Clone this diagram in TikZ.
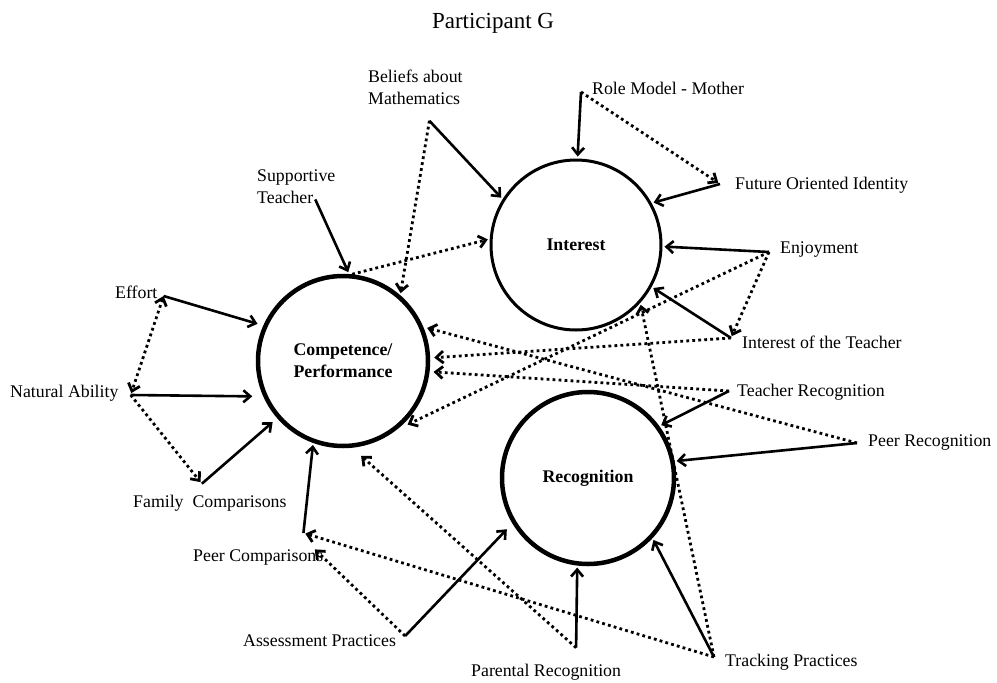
\documentclass[tikz,border=0pt]{standalone}
\usepackage{fontspec}
\setmainfont{Liberation Serif}
\usetikzlibrary{arrows.meta}

\begin{document}
\begin{tikzpicture}[x=1pt, y=-1pt,
		>={Straight Barb[length=7pt,width=12pt]},
		lbl/.style={font=\fontsize{17.8}{21.5}\selectfont, inner sep=3pt, anchor=west, align=left},
		construct/.style={circle, draw, minimum size=170pt, inner sep=0pt, align=center,
			font=\fontsize{17.8}{22}\selectfont\bfseries},
		link/.style={->, line width=2.6pt, shorten >=2pt},
		hint/.style={->, line width=2.8pt, dash pattern=on 2.8pt off 3.2pt, shorten >=2pt}]
	\useasboundingbox (0,0) rectangle (997,683);

	\node (title) at (493,23) {\fontsize{23}{27}\selectfont Participant G};

	\node[construct, line width=4.5pt] (comp) at (343,361) {Competence/\\Performance};
	\node[construct, line width=3pt] (inter) at (576,245) {Interest};
	\node[construct, line width=4.5pt, minimum size=172pt] (recog) at (588,478) {Recognition};

	\node[lbl] (beliefs) at (365,87.5) {Beliefs about\\Mathematics};
	\node[lbl] (rolemodel) at (589,88) {Role Model - Mother};
	\node[lbl] (supportive) at (254,186.5) {Supportive\\Teacher};
	\node[lbl] (future) at (732,185) {Future Oriented Identity};
	\node[lbl] (enjoyment) at (777,250) {Enjoyment};
	\node[lbl] (teachint) at (739,342) {Interest of the Teacher};
	\node[lbl] (teachrec) at (734,392) {Teacher Recognition};
	\node[lbl] (peerrec) at (865,443) {Peer Recognition};
	\node[lbl] (effort) at (112,292) {Effort};
	\node[lbl] (natural) at (7,393) {Natural Ability};
	\node[lbl] (family) at (130,503) {Family~ Comparisons};
	\node[lbl] (peercomp) at (190,557) {Peer Comparisons};
	\node[lbl] (assess) at (240,641) {Assessment Practices};
	\node[lbl] (parental) at (468,672) {Parental Recognition};
	\node[lbl] (tracking) at (722,662) {Tracking Practices};

	\coordinate (beliefs-pt) at ([shift={(14,13)}]beliefs.south);
	\coordinate (rolemodel-pt) at ([shift={(-8,4)}]rolemodel.west);
	\coordinate (supportive-pt) at ([shift={(19,-7)}]supportive.south);
	\coordinate (future-pt) at ([shift={(-12,-1)}]future.west);
	\coordinate (enjoyment-pt) at ([shift={(-8,2)}]enjoyment.west);
	\coordinate (teachint-pt) at ([shift={(-8,-4)}]teachint.west);
	\coordinate (teachrec-pt) at ([shift={(-5,-1)}]teachrec.west);
	\coordinate (peerrec-pt) at ([shift={(-8,0)}]peerrec.west);
	\coordinate (effort-pt) at ([shift={(3,4)}]effort.east);
	\coordinate (natural-pt) at ([shift={(9,2)}]natural.east);
	\coordinate (family-pt) at ([shift={(-8,-8)}]family.north);
	\coordinate (peercomp-pt) at ([shift={(-23,-13)}]peercomp.north east);
	\coordinate (assess-pt) at ([shift={(6,-5)}]assess.east);
	\coordinate (parental-pt) at ([shift={(30,-13)}]parental.north);
	\coordinate (tracking-pt) at ([shift={(-8,-5)}]tracking.west);

	\path[link]
	(beliefs-pt) edge (inter.148)
	(rolemodel-pt) edge (inter.89)
	(future-pt) edge (inter.29)
	(enjoyment-pt) edge (inter.359)
	(teachint-pt) edge (inter.331)
	(teachrec-pt) edge (recog.36)
	(peerrec-pt) edge (recog.11)
	(supportive-pt) edge (comp.86)
	(effort-pt) edge[shorten >=6pt] (comp.156)
	(natural-pt) edge[shorten >=11pt] (comp.204)
	(family-pt) edge[shorten >=6pt] (comp.221)
	(peercomp-pt) edge (comp.250)
	(assess-pt) edge[shorten >=8pt] (recog.211)
	(parental-pt) edge (recog.263)
	(tracking-pt) edge (recog.317);

	\path[hint]
	(rolemodel-pt) edge (future-pt)
	(beliefs-pt) edge (comp.49)
	(comp.84) edge (inter.176)
	(effort-pt) edge[<->] (natural-pt)
	(natural-pt) edge (family-pt)
	(enjoyment-pt) edge[shorten >=12pt] (comp.308)
	(enjoyment-pt) edge (teachint-pt)
	(teachint-pt) edge[shorten >=4pt] (comp.2)
	(teachrec-pt) edge[shorten >=4pt] (comp.353)
	(peerrec-pt) edge[shorten >=4pt] (comp.23)
	(tracking-pt) edge (inter.318)
	(tracking-pt) edge (peercomp-pt)
	(assess-pt) edge ([shift={(10,15)}]peercomp-pt)
	(parental-pt) edge[shorten >=12pt] (comp.276);
\end{tikzpicture}
\end{document}
